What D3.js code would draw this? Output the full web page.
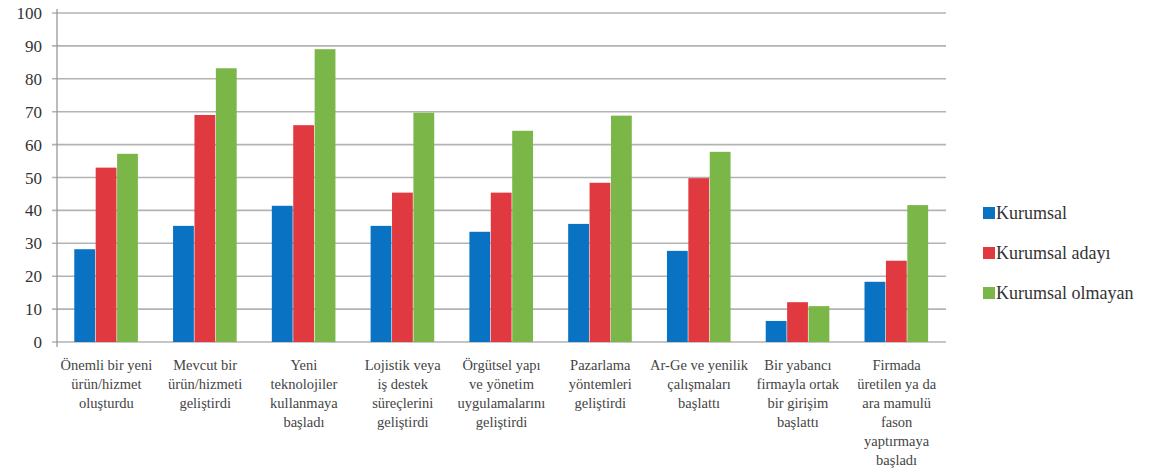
<!DOCTYPE html>
<html>
<head>
  <meta charset="UTF-8">
  <script src="https://d3js.org/d3.v7.min.js"></script>
</head>
<body style="margin:0">
  <svg width="1164" height="472"></svg>

  <script>
    const categories = [
      ["Önemli bir yeni", "ürün/hizmet", "oluşturdu"],
      ["Mevcut bir", "ürün/hizmeti", "geliştirdi"],
      ["Yeni", "teknolojiler", "kullanmaya", "başladı"],
      ["Lojistik veya", "iş destek", "süreçlerini", "geliştirdi"],
      ["Örgütsel yapı", "ve yönetim", "uygulamalarını", "geliştirdi"],
      ["Pazarlama", "yöntemleri", "geliştirdi"],
      ["Ar-Ge ve yenilik", "çalışmaları", "başlattı"],
      ["Bir yabancı", "firmayla ortak", "bir girişim", "başlattı"],
      ["Firmada", "üretilen ya da", "ara mamulü", "fason", "yaptırmaya", "başladı"]
    ];
    const seriesNames = ["Kurumsal", "Kurumsal adayı", "Kurumsal olmayan"];
    const kurumsal = [28.2, 35.3, 41.4, 35.3, 33.5, 35.9, 27.7, 6.4, 18.3];
    const kurumsalAdayi = [53, 69, 65.9, 45.4, 45.4, 48.4, 49.8, 12.1, 24.7];
    const kurumsalOlmayan = [57.2, 83.2, 89, 69.7, 64.2, 68.8, 57.8, 10.9, 41.6];
    const yTicks = [0, 10, 20, 30, 40, 50, 60, 70, 80, 90, 100];

    const colors = ["#0a72c2", "#e0393f", "#7ab648"];
    const seriesValues = [kurumsal, kurumsalAdayi, kurumsalOlmayan];
    const fontStack = "'Liberation Serif', Tinos, 'DejaVu Serif', serif";

    const svg = d3.select("svg");
    const plotL = 57, plotR = 946, plotT = 13, plotB = 342;

    const x = d3.scaleBand()
      .domain(d3.range(categories.length))
      .range([plotL, plotR])
      .paddingInner(0.35)
      .paddingOuter(0.175);
    const xs = d3.scaleBand()
      .domain(d3.range(seriesNames.length))
      .range([0, x.bandwidth()]);
    const y = d3.scaleLinear().domain([0, 100]).range([plotB, plotT]);

    // grid lines
    svg.append("g")
      .selectAll("line")
      .data(yTicks)
      .join("line")
      .attr("x1", plotL - 5)
      .attr("x2", plotR)
      .attr("y1", d => y(d))
      .attr("y2", d => y(d))
      .attr("stroke", "#b3b3b3")
      .attr("stroke-width", 1.6);

    // y axis line
    svg.append("line")
      .attr("x1", plotL).attr("x2", plotL)
      .attr("y1", plotT - 4).attr("y2", plotB + 5)
      .attr("stroke", "#999")
      .attr("stroke-width", 1.3);

    // y tick labels
    svg.append("g")
      .selectAll("text")
      .data(yTicks)
      .join("text")
      .attr("x", 42)
      .attr("y", d => y(d) + 6)
      .attr("text-anchor", "end")
      .attr("font-size", 17)
      .attr("font-family", fontStack)
      .style("font-family", fontStack, "important")
      .attr("fill", "#333")
      .text(d => d);

    // bars
    const groups = svg.append("g")
      .selectAll("g")
      .data(seriesValues)
      .join("g")
      .attr("fill", (d, i) => colors[i]);

    groups.each(function(vals, si) {
      d3.select(this).selectAll("rect")
        .data(vals)
        .join("rect")
        .attr("x", (d, ci) => x(ci) + xs(si))
        .attr("width", xs.bandwidth() - 0.6)
        .attr("y", d => y(d))
        .attr("height", d => y(0) - y(d));
    });

    // category labels, one text per line
    const labelGroups = svg.append("g")
      .selectAll("g")
      .data(categories)
      .join("g")
      .attr("transform", (d, i) => `translate(${x(i) + x.bandwidth() / 2},370)`);

    labelGroups.selectAll("text")
      .data(d => d)
      .join("text")
      .attr("x", 0)
      .attr("y", (d, i) => i * 19)
      .attr("text-anchor", "middle")
      .attr("font-size", 14.5)
      .attr("font-family", fontStack)
      .style("font-family", fontStack, "important")
      .attr("fill", "#444")
      .text(d => d);

    // legend
    const legend = svg.append("g")
      .selectAll("g")
      .data(seriesNames)
      .join("g")
      .attr("transform", (d, i) => `translate(983,${213 + i * 40})`);

    legend.append("rect")
      .attr("x", 0)
      .attr("y", -6)
      .attr("width", 12)
      .attr("height", 12)
      .attr("fill", (d, i) => colors[i]);

    legend.append("text")
      .attr("x", 13)
      .attr("y", 6)
      .attr("font-size", 18)
      .attr("font-family", fontStack)
      .style("font-family", fontStack, "important")
      .attr("fill", "#333")
      .text(d => d);
  </script>
</body>
</html>
